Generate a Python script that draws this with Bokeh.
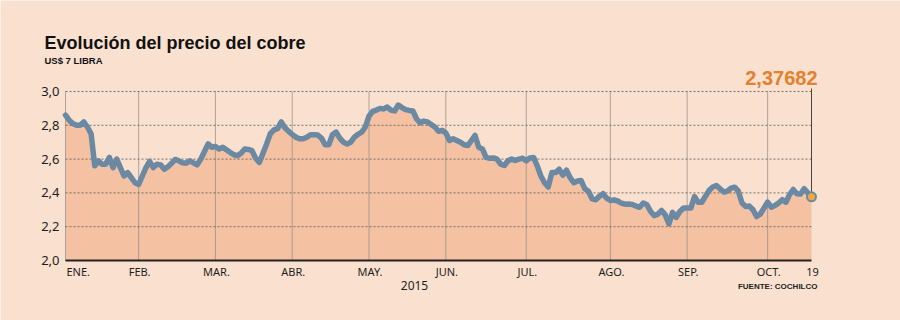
from bokeh.plotting import figure
from bokeh.models import Label, Range1d
from bokeh.embed import file_html
from bokeh.resources import INLINE
from bokeh.core.properties import value

title_text = "Evolución del precio del cobre"
subtitle_text = "US$ 7 LIBRA"
year_text = "2015"
source_text = "FUENTE: COCHILCO"
last_label = "2,37682"

month_labels = ["ENE.", "FEB.", "MAR.", "ABR.", "MAY.", "JUN.", "JUL.", "AGO.", "SEP.", "OCT."]
month_start = [0, 20, 41, 62, 83, 104, 126, 149, 170, 192]
end_label = "19"

y_ticks = [2.0, 2.2, 2.4, 2.6, 2.8, 3.0]
y_tick_labels = ["2,0", "2,2", "2,4", "2,6", "2,8", "3,0"]

price = [
    2.86, 2.83, 2.81, 2.80, 2.80, 2.82, 2.79, 2.75, 2.56, 2.59,
    2.57, 2.57, 2.61, 2.55, 2.60, 2.55, 2.50, 2.52, 2.49, 2.46,
    2.45, 2.50, 2.55, 2.586, 2.55, 2.57, 2.566, 2.54, 2.555, 2.575,
    2.598, 2.59, 2.578, 2.575, 2.59, 2.578, 2.566, 2.60, 2.645, 2.69,
    2.67, 2.675, 2.66, 2.67, 2.655, 2.64, 2.627, 2.62, 2.635, 2.66,
    2.657, 2.65, 2.605, 2.58, 2.635, 2.69, 2.75, 2.773, 2.78, 2.82,
    2.785, 2.765, 2.745, 2.73, 2.72, 2.72, 2.73, 2.744, 2.744, 2.742,
    2.724, 2.685, 2.685, 2.744, 2.76, 2.724, 2.70, 2.69, 2.70, 2.73,
    2.747, 2.76, 2.79, 2.855, 2.882, 2.89, 2.90, 2.897, 2.908, 2.89,
    2.885, 2.92, 2.905, 2.893, 2.888, 2.885, 2.838, 2.815, 2.825, 2.82,
    2.805, 2.79, 2.765, 2.77, 2.755, 2.71, 2.72, 2.71, 2.70, 2.685,
    2.68, 2.71, 2.74, 2.67, 2.66, 2.61, 2.605, 2.607, 2.60, 2.57,
    2.562, 2.59, 2.60, 2.592, 2.60, 2.605, 2.59, 2.607, 2.61, 2.56,
    2.50, 2.46, 2.435, 2.52, 2.52, 2.54, 2.505, 2.535, 2.49, 2.46,
    2.47, 2.473, 2.425, 2.41, 2.365, 2.359, 2.38, 2.395, 2.369, 2.355,
    2.358, 2.352, 2.34, 2.333, 2.334, 2.332, 2.322, 2.315, 2.34, 2.33,
    2.29, 2.266, 2.274, 2.296, 2.27, 2.217, 2.285, 2.255, 2.29, 2.31,
    2.31, 2.31, 2.378, 2.345, 2.345, 2.38, 2.415, 2.435, 2.444, 2.424,
    2.405, 2.41, 2.428, 2.434, 2.41, 2.34, 2.32, 2.322, 2.30, 2.26,
    2.275, 2.31, 2.345, 2.315, 2.325, 2.34, 2.36, 2.345, 2.39, 2.42,
    2.395, 2.393, 2.425, 2.40, 2.37682,
]
day = list(range(len(price)))

# ---- layout (pixels of the 900x320 canvas) ----
W, H = 900, 320
PL, PR, PT, PB = 65, 811, 91, 260          # plotting box edges
x0, x1 = day[0], day[-1]
y0, y1 = y_ticks[0], y_ticks[-1]
sx = (PR - PL) / (x1 - x0)
sy = (PB - PT) / (y1 - y0)

BG = "#F9E0CF"
AREA = "#F4C2A2"
LINE = "#6B89A3"
ORANGE = "#E5802C"
TXT = "#1E1E1E"
FONT = "Noto Sans"

p = figure(width=W, height=H, output_backend="svg", toolbar_location=None,
           x_range=Range1d(x0 - PL / sx, x1 + (W - PR) / sx),
           y_range=Range1d(y0 - (H - PB) / sy, y1 + PT / sy),
           min_border=0)
p.background_fill_color = BG
p.border_fill_color = BG
p.outline_line_color = None
p.axis.visible = False
p.grid.visible = False

n_m = len(month_start)
n_y = len(y_ticks)

# area under the price line
p.varea(x=day, y1=[y0] * len(day), y2=price, fill_color=AREA)

# month separators (solid) and value guides (dotted)
p.segment(x0=month_start, y0=[y0] * n_m, x1=month_start, y1=[y1] * n_m,
          line_color="#8E8A86", line_alpha=0.7, line_width=1)
p.segment(x0=[x0] * (n_y - 1), y0=y_ticks[1:], x1=[x1] * (n_y - 1), y1=y_ticks[1:],
          line_color="#555555", line_alpha=0.8, line_dash="2 2", line_width=1)

# bottom axis line
p.segment(x0=[x0], y0=[y0], x1=[x1], y1=[y0], line_color="#222222", line_width=2)

# price line
p.line(x=day, y=price, line_color=LINE, line_width=5.5, line_join="round", line_cap="round")
p.segment(x0=[x1], y0=[price[-1]], x1=[x1], y1=[y1 + 3 / sy], line_color="#444444", line_width=1)
p.scatter(x=[x1], y=[price[-1]], size=9, fill_color="#F2A83C", line_color=LINE, line_width=2)

# y tick labels
p.text(x=[x0] * n_y, y=y_ticks, text=y_tick_labels, x_offset=-6,
       text_align="right", text_baseline="middle", text_font=value(FONT),
       text_font_size="13px", text_color=TXT)

# month tick labels
p.text(x=month_start[:1], y=[y0], text=month_labels[:1], x_offset=1, y_offset=11,
       text_align="left", text_baseline="middle", text_font=value(FONT),
       text_font_size="11px", text_color=TXT)
p.text(x=month_start[1:] + [x1], y=[y0] * n_m, text=month_labels[1:] + [end_label],
       x_offset=1, y_offset=11,
       text_align="center", text_baseline="middle", text_font=value(FONT),
       text_font_size="11px", text_color=TXT)

# last value label
p.text(x=[x1], y=[y1], text=[last_label], x_offset=6, y_offset=-14,
       text_align="right", text_baseline="middle", text_font=value("Liberation Sans"),
       text_font_style="bold", text_font_size="20px", text_color=ORANGE)

# titles and notes (screen units: canvas, origin bottom-left)
p.add_layout(Label(x=44, y=H - 42, x_units="screen", y_units="screen", text=title_text,
                   text_align="left", text_baseline="middle", text_font="Liberation Sans",
                   text_font_style="bold", text_font_size="18px", text_color="#111111"))
p.add_layout(Label(x=44, y=H - 60, x_units="screen", y_units="screen", text=subtitle_text,
                   text_align="left", text_baseline="middle", text_font="Liberation Sans",
                   text_font_style="bold", text_font_size="9.5px", text_color="#111111"))
p.add_layout(Label(x=414, y=H - 285, x_units="screen", y_units="screen", text=year_text,
                   text_align="center", text_baseline="middle", text_font=FONT,
                   text_font_size="12px", text_color=TXT))
p.add_layout(Label(x=817, y=H - 286, x_units="screen", y_units="screen", text=source_text,
                   text_align="right", text_baseline="middle", text_font="Liberation Sans",
                   text_font_style="bold", text_font_size="8px", text_color=TXT))

open("out.html", "w").write(file_html(p, INLINE))
